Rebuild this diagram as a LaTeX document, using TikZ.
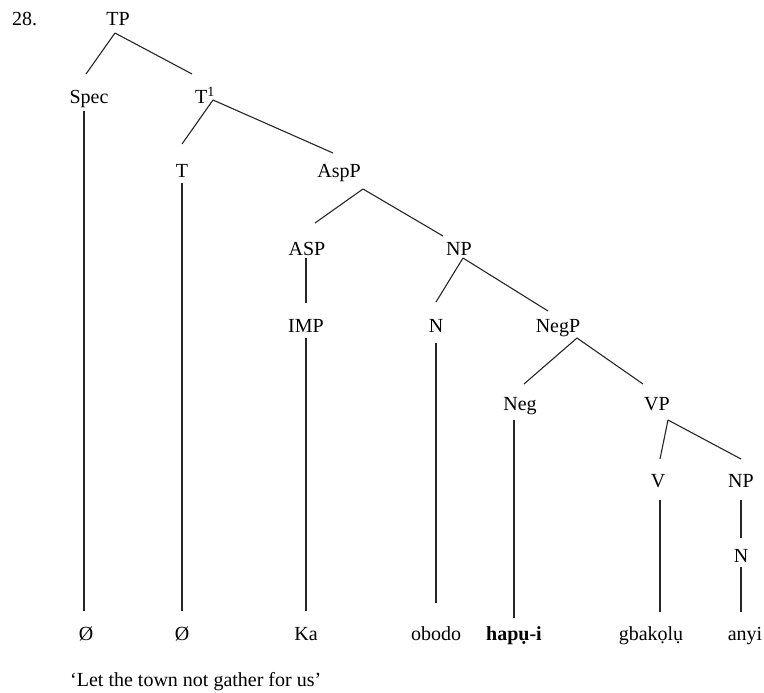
\documentclass[tikz,border=0pt]{standalone}
\usepackage{fontspec}
\setmainfont{Liberation Serif}
\usetikzlibrary{calc}
\begin{document}
\begin{tikzpicture}[x=1pt,y=-1pt,
  lbl/.style={anchor=base,inner sep=0pt,font=\fontsize{20}{24}\selectfont},
  edge/.style={line width=1.1pt,draw=black!85}]
\useasboundingbox (0,0) rectangle (764,693);
% labels
\node[lbl,anchor=base west] (num) at (12,26) {28.};
\node[lbl] (TP) at (118,26) {TP};
\node[lbl] (Spec) at (89,104) {Spec};
\node[lbl] (T1) at (205,104) {T\textsuperscript{1}};
\node[lbl] (T) at (182,177) {T};
\node[lbl] (AspP) at (339,177) {AspP};
\node[lbl] (ASP) at (307,255) {ASP};
\node[lbl] (NP) at (459,255) {NP};
\node[lbl] (IMP) at (306,332) {IMP};
\node[lbl] (N) at (436,332) {N};
\node[lbl] (NegP) at (558,332) {NegP};
\node[lbl] (Neg) at (520,410) {Neg};
\node[lbl] (VP) at (657,410) {VP};
\node[lbl] (V) at (658,487) {V};
\node[lbl] (NPb) at (741,487) {NP};
\node[lbl] (Nb) at (741,562) {N};
\node[lbl] (w1) at (86,640) {Ø};
\node[lbl] (w2) at (182,640) {Ø};
\node[lbl] (w3) at (306,640) {Ka};
\node[lbl] (w4) at (436,640) {obodo};
\node[lbl] (w5) at (514,640) {\textbf{hapụ-i}};
\node[lbl] (w6) at (651,640) {gbakọlụ};
\node[lbl] (w7) at (745,640) {anyi};
\node[lbl,anchor=base west] (gloss) at (70,686) {‘Let the town not gather for us’};
% connectors
\draw[edge] ($(TP.base)+(-3,7)$) -- ($(Spec.base)+(-3,-30)$);
\draw[edge] ($(TP.base)+(-3,7)$) -- ($(T1.base)+(-13,-30)$);
\draw[edge] ($(T1.base)+(8,-4)$) -- ($(T.base)+(0,-33)$);
\draw[edge] ($(T1.base)+(8,-4)$) -- ($(AspP.base)+(-6,-24)$);
\draw[edge] ($(Spec.base)+(-5,7)$) -- ($(w1.base)+(-2,-29)$);
\draw[edge] ($(T.base)+(0,6)$) -- ($(w2.base)+(0,-29)$);
\draw[edge] ($(AspP.base)+(24,12)$) -- ($(ASP.base)+(8,-32)$);
\draw[edge] ($(AspP.base)+(24,12)$) -- ($(NP.base)+(-16,-19)$);
\draw[edge] ($(ASP.base)+(-1,3)$) -- ($(IMP.base)+(0,-29)$);
\draw[edge] ($(IMP.base)+(0,6)$) -- ($(w3.base)+(0,-29)$);
\draw[edge] ($(NP.base)+(4,3)$) -- ($(N.base)+(0,-30)$);
\draw[edge] ($(NP.base)+(4,3)$) -- ($(NegP.base)+(-10,-21)$);
\draw[edge] ($(N.base)+(0,11)$) -- ($(w4.base)+(0,-37)$);
\draw[edge] ($(NegP.base)+(19,6)$) -- ($(Neg.base)+(4,-26)$);
\draw[edge] ($(NegP.base)+(19,6)$) -- ($(VP.base)+(-14,-26)$);
\draw[edge] ($(Neg.base)+(-6,10)$) -- ($(w5.base)+(0,-22)$);
\draw[edge] ($(VP.base)+(11,10)$) -- ($(V.base)+(2,-28)$);
\draw[edge] ($(VP.base)+(11,10)$) -- ($(NPb.base)+(0,-28)$);
\draw[edge] ($(V.base)+(2,13)$) -- ($(w6.base)+(9,-28)$);
\draw[edge] ($(NPb.base)+(0,13)$) -- ($(Nb.base)+(0,-24)$);
\draw[edge] ($(Nb.base)+(0,5)$) -- ($(w7.base)+(-4,-28)$);
\end{tikzpicture}
\end{document}
